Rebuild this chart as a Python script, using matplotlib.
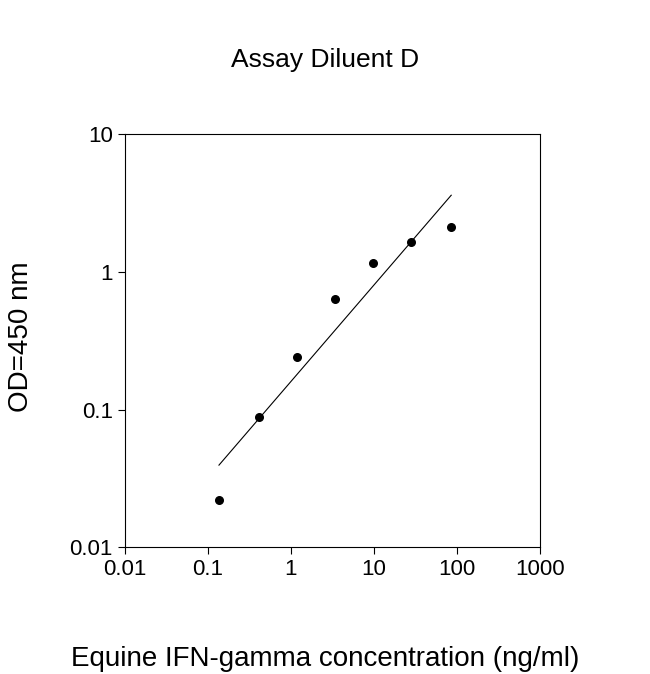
import matplotlib
matplotlib.use('Agg')
import matplotlib.pyplot as plt

plt.rcParams['font.family'] = ['Liberation Sans', 'DejaVu Sans']

# data
conc = [0.136, 0.41, 1.18, 3.4, 9.7, 28, 85]
od = [0.022, 0.088, 0.24, 0.63, 1.16, 1.64, 2.11]
fit_x = [0.136, 85]
fit_y = [0.0395, 3.6]

fig = plt.figure(figsize=(6.5, 6.74), dpi=100)
ax = fig.add_axes([0.192, 0.188, 0.639, 0.613])

ax.plot(fit_x, fit_y, color='black', lw=0.8)
ax.scatter(conc, od, s=30, color='black', zorder=3)

ax.set_xscale('log')
ax.set_yscale('log')
ax.set_xlim(0.01, 1000)
ax.set_ylim(0.01, 10)
ax.set_xticks([0.01, 0.1, 1, 10, 100, 1000])
ax.set_xticklabels(['0.01', '0.1', '1', '10', '100', '1000'])
ax.set_yticks([0.01, 0.1, 1, 10])
ax.set_yticklabels(['0.01', '0.1', '1', '10'])
ax.minorticks_off()
ax.tick_params(direction='out', labelsize=16, length=5)
for s in ax.spines.values():
    s.set_linewidth(0.8)

fig.text(0.5, 0.9, 'Assay Diluent D', ha='center', fontsize=19)
fig.text(0.5, 0.012, 'Equine IFN-gamma concentration (ng/ml)', ha='center', fontsize=20)
fig.text(0.012, 0.5, 'OD=450 nm', va='center', rotation=90, fontsize=20)

fig.savefig('out.png')
